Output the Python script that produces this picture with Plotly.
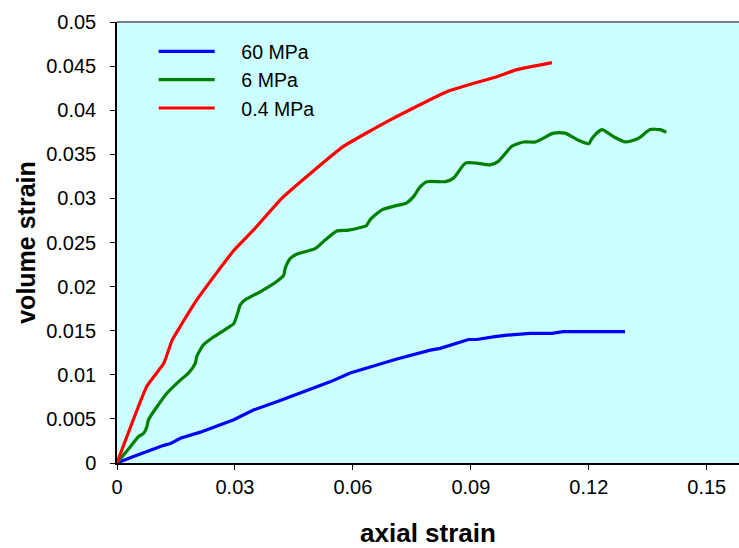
import plotly.graph_objects as go

x_60 = [0, 0.0042, 0.0119, 0.0136, 0.0161, 0.0212, 0.0297, 0.0347, 0.0415, 0.0542, 0.0593,
        0.0712, 0.0797, 0.0822, 0.0894, 0.0915, 0.0957, 0.0992, 0.1051, 0.1106, 0.1135, 0.1292]
y_60 = [0, 0.00075, 0.002, 0.0022, 0.0028, 0.0035, 0.0049, 0.006, 0.0071, 0.0092, 0.0102,
        0.0118, 0.0128, 0.013, 0.014, 0.014, 0.0143, 0.0145, 0.0147, 0.0147, 0.0149, 0.0149]

x_6 = [0, 0.0034, 0.0055, 0.0068, 0.0076, 0.008, 0.0127, 0.0161, 0.0182, 0.0199, 0.0203,
       0.022, 0.0246, 0.0288, 0.0297, 0.0309, 0.0313, 0.0326, 0.0364, 0.0407, 0.0424,
       0.0428, 0.0441, 0.0458, 0.0504, 0.0525, 0.0559, 0.0589, 0.0619, 0.0634, 0.0644,
       0.0674, 0.0703, 0.0737, 0.0754, 0.0771, 0.0788, 0.0835, 0.0856, 0.0886, 0.0915,
       0.0949, 0.097, 0.1004, 0.1034, 0.1064, 0.111, 0.114, 0.1173, 0.12, 0.1208,
       0.1233, 0.1263, 0.1293, 0.1326, 0.1356, 0.1381, 0.1397]
y_6 = [0, 0.00185, 0.003, 0.00337, 0.0041, 0.0049, 0.0079, 0.0094, 0.0102, 0.0113, 0.0121,
       0.0134, 0.0143, 0.0155, 0.0158, 0.0173, 0.0179, 0.0185, 0.0194, 0.0206, 0.0213,
       0.0221, 0.0232, 0.0237, 0.0243, 0.0251, 0.0263, 0.0264, 0.0267, 0.0269, 0.0276,
       0.0287, 0.0291, 0.0295, 0.0302, 0.0313, 0.0319, 0.0319, 0.0323, 0.034, 0.034,
       0.0338, 0.0342, 0.0359, 0.0364, 0.0364, 0.0374, 0.0374, 0.0366, 0.0362, 0.0368,
       0.0378, 0.037, 0.0364, 0.0368, 0.0378, 0.0378, 0.0375]

x_04 = [0, 0.0076, 0.0119, 0.014, 0.0161, 0.0203, 0.0297, 0.0347, 0.0419, 0.0491, 0.0576,
        0.0695, 0.0839, 0.0966, 0.1017, 0.1106]
y_04 = [0, 0.0087, 0.0113, 0.0139, 0.0155, 0.0185, 0.0241, 0.0264, 0.03, 0.0328, 0.0359,
        0.0389, 0.0421, 0.0438, 0.0446, 0.0454]

x_ticks = [0, 0.03, 0.06, 0.09, 0.12, 0.15]
x_ticktext = ["0", "0.03", "0.06", "0.09", "0.12", "0.15"]
y_ticks = [0, 0.005, 0.01, 0.015, 0.02, 0.025, 0.03, 0.035, 0.04, 0.045, 0.05]
y_ticktext = ["0", "0.005", "0.01", "0.015", "0.02", "0.025", "0.03", "0.035", "0.04", "0.045", "0.05"]

FONT = "Liberation Sans, Arial, sans-serif"
PAD = "&nbsp;&nbsp;&nbsp;&nbsp;"

fig = go.Figure()
fig.add_trace(go.Scatter(x=x_60, y=y_60, mode="lines", name=PAD + "60 MPa",
                         line=dict(color="#0000FF", width=3.2)))
fig.add_trace(go.Scatter(x=x_6, y=y_6, mode="lines", name=PAD + "6 MPa",
                         line=dict(color="#008000", width=3.2, shape="spline", smoothing=0.6)))
fig.add_trace(go.Scatter(x=x_04, y=y_04, mode="lines", name=PAD + "0.4 MPa",
                         line=dict(color="#FF0000", width=3.2, shape="spline", smoothing=0.4)))

fig.update_layout(
    width=739, height=548,
    margin=dict(l=117, r=0, t=22, b=85),
    paper_bgcolor="white",
    plot_bgcolor="#CCFFFF",
    font=dict(family=FONT, size=20, color="black"),
    showlegend=True,
    legend=dict(x=0.059, y=0.977, xanchor="left", yanchor="top",
                bgcolor="rgba(0,0,0,0)", font=dict(size=19.5, family=FONT),
                itemwidth=56, tracegroupgap=0),
    xaxis=dict(range=[0, 0.1582], tickvals=x_ticks, ticktext=x_ticktext,
               showgrid=False, zeroline=False, showline=True, linecolor="black",
               linewidth=1.5, ticks="outside", ticklen=5, tickcolor="black",
               tickfont=dict(size=20), automargin=False,
               title=dict(text="<b>axial strain</b>", font=dict(size=26), standoff=40)),
    yaxis=dict(range=[0, 0.05], tickvals=y_ticks, ticktext=y_ticktext,
               showgrid=False, zeroline=False, showline=True, linecolor="black",
               linewidth=1.5, ticks="outside", ticklen=5, tickcolor="black",
               tickfont=dict(size=20), automargin=False, ticklabelstandoff=10,
               title=dict(text="<b>volume strain</b>", font=dict(size=25), standoff=3)),
)
fig.add_shape(type="line", xref="paper", yref="paper", x0=0, x1=1, y0=1, y1=1,
              line=dict(color="#555555", width=1.5))

fig.write_html("out.html", config={"displayModeBar": False},
               post_script="document.body.style.margin='0';document.body.style.overflow='hidden';")
